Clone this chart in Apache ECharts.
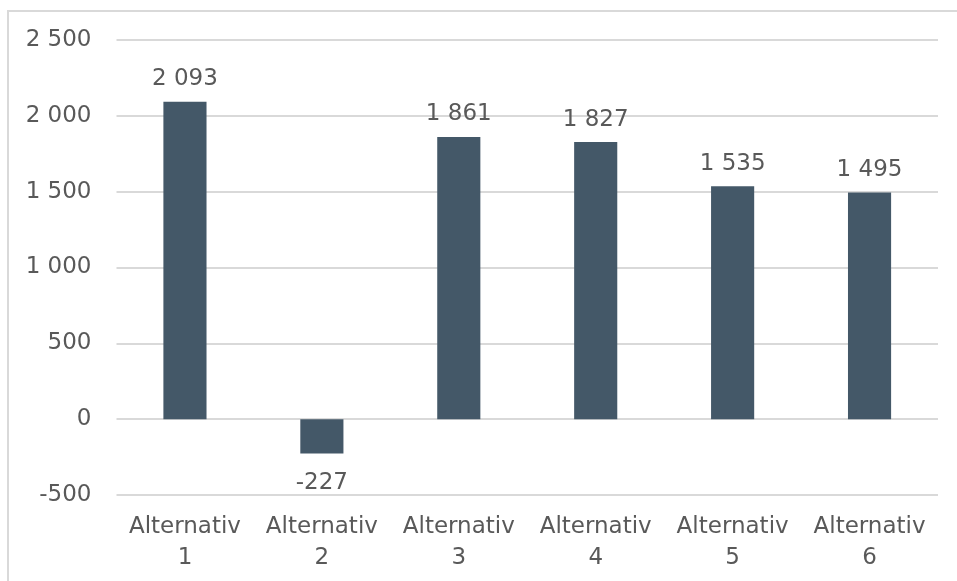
<!DOCTYPE html>
<html>
<head>
<meta charset="utf-8">
<script src="https://cdn.jsdelivr.net/npm/echarts@6/dist/echarts.min.js"></script>
<style>
  html, body { margin: 0; padding: 0; background: #ffffff; }
  #frame { position: absolute; left: 7px; top: 10px; width: 960px; height: 580px;
           border-left: 2px solid #d9d9d9; border-top: 2px solid #d9d9d9; box-sizing: border-box; }
  #chart { position: absolute; left: 0; top: 0; width: 957px; height: 581px; }
</style>
</head>
<body>
<div id="frame"></div>
<div id="chart"></div>
<script>
// Alternatives and their net values
const categories = ['Alternativ 1', 'Alternativ 2', 'Alternativ 3', 'Alternativ 4', 'Alternativ 5', 'Alternativ 6'];
const values = [2093, -227, 1861, 1827, 1535, 1495];
const yTicks = [-500, 0, 500, 1000, 1500, 2000, 2500];

// Format numbers with a space as thousands separator
function fmt(v) {
  const s = String(Math.abs(v)).replace(/\B(?=(\d{3})+(?!\d))/g, ' ');
  return (v < 0 ? '-' : '') + s;
}

const FONT = '"DejaVu Sans", Verdana, sans-serif';
const TEXT = '#595959';
const SIZE = 23;

const chart = echarts.init(document.getElementById('chart'), null, { renderer: 'canvas' });
chart.setOption({
  animation: false,
  backgroundColor: 'transparent',
  grid: { left: 116.5, right: 19, top: 40, bottom: 86, containLabel: false },
  xAxis: {
    type: 'category',
    data: categories,
    axisLine: { show: false },
    axisTick: { show: false },
    axisLabel: {
      color: TEXT, fontFamily: FONT, fontSize: SIZE, lineHeight: 31, margin: 17,
      interval: 0,
      formatter: v => v.replace(' ', '\n')
    }
  },
  yAxis: {
    type: 'value',
    min: yTicks[0],
    max: yTicks[yTicks.length - 1],
    interval: 500,
    axisLine: { show: false },
    axisTick: { show: false },
    splitLine: { lineStyle: { color: '#d9d9d9', width: 2 } },
    axisLabel: { color: TEXT, fontFamily: FONT, fontSize: SIZE, margin: 25, formatter: fmt }
  },
  series: [{
    type: 'bar',
    data: values.map(v => ({
      value: v,
      label: { position: v < 0 ? 'bottom' : 'top', distance: v < 0 ? 18 : 11 }
    })),
    barWidth: '31.5%',
    itemStyle: { color: '#445868' },
    label: {
      show: true, color: TEXT, fontFamily: FONT, fontSize: SIZE,
      formatter: p => fmt(p.value)
    }
  }]
});
</script>
</body>
</html>
